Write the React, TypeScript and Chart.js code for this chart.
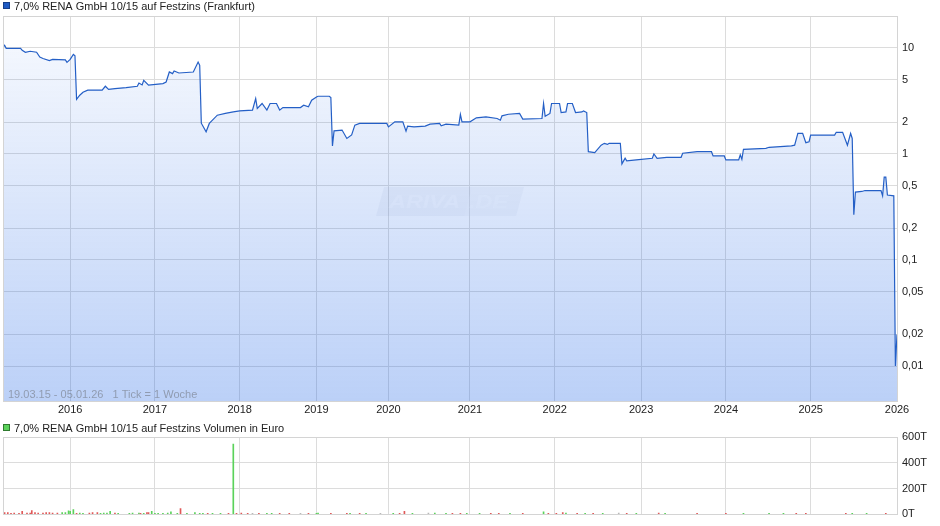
import React, { useEffect, useRef } from "react";
import { Chart, registerables } from "chart.js";

Chart.register(...registerables);

const FONT = 'Arial, "Liberation Sans", sans-serif';

const priceTitle = "7,0% RENA GmbH 10/15 auf Festzins (Frankfurt)";
const volumeTitle = "7,0% RENA GmbH 10/15 auf Festzins Volumen in Euro";
const rangeNote = "19.03.15 - 05.01.26   1 Tick = 1 Woche";
const watermarkParts = ["ARIVA", ".DE"];

// x axis: one tick per traded week (index), year boundaries
const yearLabels = ["2016", "2017", "2018", "2019", "2020", "2021", "2022", "2023", "2024", "2025", "2026"];
const yearWeeks = [42, 95, 148, 196, 241, 292, 345, 399, 452, 505, 559];
const weekCount = 559;

const priceTicks = [10, 5, 2, 1, 0.5, 0.2, 0.1, 0.05, 0.02, 0.01];
const priceMin = 0.00468;
const priceMax = 20.0;

const volumeTicks = [0, 200, 400, 600];
const volumeMax = 600;

// [week index, price]
const pricePoints: [number, number][] = [
  [0, 10.2], [1, 10.6], [2, 9.9], [11, 9.9], [12, 9.5], [14, 9.1], [17, 9.3], [21, 9.1],
  [23, 8.2], [25, 7.95], [29, 7.6], [31, 7.8], [39, 7.7], [40, 7.3], [42, 7.8], [44, 8.7],
  [45, 8.45], [46, 3.28], [48, 3.58], [50, 3.82], [53, 4.0], [62, 4.0], [64, 4.35], [66, 4.06],
  [70, 4.14], [77, 4.23], [84, 4.35], [85, 4.67], [87, 4.48], [88, 4.95], [91, 4.45], [100, 4.61],
  [102, 4.77], [104, 5.93], [106, 5.72], [107, 6.06], [110, 5.8], [119, 5.93], [122, 7.36], [123, 6.85],
  [124, 1.95], [127, 1.62], [129, 1.94], [134, 2.32], [139, 2.41], [144, 2.49], [148, 2.55], [156, 2.59],
  [158, 3.33], [159, 2.69], [162, 2.99], [165, 2.59], [167, 2.99], [171, 2.99], [173, 2.59], [175, 2.74],
  [186, 2.74], [188, 2.88], [191, 2.78], [193, 3.21], [196, 3.45], [197, 3.5], [204, 3.5], [205, 3.4],
  [206, 1.19], [207, 1.65], [212, 1.68], [215, 1.4], [218, 1.51], [220, 1.87], [223, 1.94], [240, 1.94],
  [241, 1.8], [245, 2.01], [250, 2.01], [252, 1.64], [253, 1.83], [257, 1.8], [264, 1.83], [267, 1.91],
  [273, 1.94], [274, 1.84], [277, 1.91], [285, 1.87], [286, 2.36], [287, 2.01], [292, 2.01], [296, 2.19],
  [302, 2.24], [309, 2.16], [311, 2.08], [312, 2.29], [316, 2.37], [323, 2.41], [325, 2.13], [337, 2.16],
  [338, 2.99], [339, 2.27], [342, 2.41], [343, 2.99], [348, 2.99], [349, 2.46], [352, 2.49], [353, 2.99],
  [356, 2.99], [358, 2.46], [362, 2.49], [363, 2.55], [365, 2.46], [366, 1.05], [370, 1.03], [374, 1.21],
  [376, 1.26], [378, 1.23], [379, 1.26], [386, 1.26], [387, 0.806], [389, 0.911], [390, 0.86], [396, 0.878],
  [406, 0.911], [407, 1.0], [409, 0.911], [415, 0.93], [424, 0.93], [425, 1.015], [434, 1.05], [443, 1.05],
  [444, 0.958], [451, 0.958], [452, 0.878], [460, 0.878], [461, 0.98], [462, 0.89], [463, 1.107], [477, 1.131],
  [479, 1.156], [493, 1.19], [495, 1.21], [497, 1.564], [500, 1.564], [502, 1.277], [504, 1.3], [505, 1.508],
  [520, 1.508], [521, 1.6], [525, 1.6], [528, 1.21], [530, 1.564], [531, 1.4], [532, 0.2675], [533, 0.437],
  [537, 0.443], [539, 0.452], [549, 0.452], [550, 0.403], [551, 0.604], [552, 0.604], [553, 0.41], [557, 0.403],
  [558, 0.01], [559, 0.0198],
];

// [week index, volume in thousand euro, direction: u = up, d = down, n = unchanged]
const volumeBars: [number, number, string][] = [
  [0, 23, "d"], [1, 15, "d"], [3, 15, "d"], [5, 8, "d"], [7, 11, "d"], [10, 8, "d"], [12, 23, "d"],
  [15, 11, "d"], [17, 11, "d"], [18, 30, "d"], [20, 15, "d"], [22, 11, "d"], [25, 11, "d"], [27, 15, "d"],
  [29, 15, "d"], [31, 11, "d"], [34, 11, "d"], [37, 15, "u"], [39, 15, "u"], [41, 27, "u"], [42, 23, "u"],
  [44, 38, "u"], [46, 8, "d"], [48, 11, "u"], [50, 8, "u"], [54, 11, "d"], [56, 15, "d"], [59, 15, "d"],
  [61, 8, "u"], [63, 11, "u"], [65, 11, "u"], [67, 23, "u"], [70, 11, "d"], [72, 8, "u"], [79, 8, "u"],
  [81, 11, "u"], [85, 11, "u"], [86, 8, "d"], [88, 8, "u"], [90, 15, "d"], [91, 15, "d"], [93, 23, "u"],
  [95, 8, "u"], [97, 8, "u"], [100, 8, "u"], [103, 11, "u"], [105, 19, "u"], [109, 8, "u"], [111, 45, "d"],
  [115, 8, "u"], [120, 15, "u"], [123, 8, "u"], [125, 8, "u"], [128, 8, "d"], [131, 8, "u"], [136, 8, "u"],
  [141, 8, "d"], [144, 545, "u"], [146, 8, "d"], [149, 11, "d"], [153, 8, "d"], [156, 8, "n"], [160, 8, "d"],
  [165, 8, "u"], [168, 8, "u"], [173, 8, "d"], [179, 8, "d"], [186, 8, "n"], [191, 8, "d"], [196, 8, "u"],
  [197, 11, "u"], [205, 8, "d"], [215, 8, "d"], [217, 8, "u"], [223, 8, "d"], [227, 8, "u"], [236, 8, "n"],
  [244, 8, "u"], [248, 8, "d"], [251, 23, "d"], [256, 8, "u"], [266, 11, "n"], [270, 11, "u"], [277, 8, "u"],
  [281, 8, "d"], [286, 8, "d"], [290, 8, "u"], [298, 8, "u"], [305, 8, "d"], [310, 8, "d"], [317, 8, "u"],
  [325, 8, "d"], [338, 19, "u"], [341, 8, "d"], [346, 8, "d"], [350, 15, "d"], [352, 11, "u"], [359, 8, "d"],
  [364, 8, "u"], [369, 8, "d"], [375, 8, "u"], [385, 11, "n"], [390, 8, "d"], [396, 8, "u"], [410, 11, "d"],
  [414, 8, "u"], [434, 8, "d"], [452, 8, "d"], [463, 8, "u"], [479, 8, "u"], [488, 8, "u"], [496, 8, "d"],
  [502, 8, "d"], [527, 8, "d"], [531, 8, "u"], [540, 8, "u"], [552, 8, "d"],
];

const dirColors: Record<string, string> = { u: "#5bd25b", d: "#e05858", n: "#b8b8b8" };

const GRID = "#dcdcdc";
const TICK_COLOR = "#222";

function yearLabelFor(v: number): string {
  const i = yearWeeks.indexOf(v);
  return i >= 0 ? yearLabels[i] : "";
}

function xScaleBase(showLabels: boolean, height: number) {
  return {
    type: "linear" as const,
    min: 0,
    max: weekCount,
    offset: false,
    border: { display: false },
    grid: { color: GRID, lineWidth: 1, drawTicks: false, offset: false },
    ticks: {
      display: showLabels,
      autoSkip: false,
      maxRotation: 0,
      padding: 2,
      color: TICK_COLOR,
      font: { family: FONT, size: 11 },
      callback: (v: any) => yearLabelFor(Number(v)),
    },
    afterBuildTicks: (scale: any) => {
      scale.ticks = yearWeeks.map((w) => ({ value: w }));
    },
    afterFit: (scale: any) => {
      scale.height = height;
    },
  };
}

const priceDecor = {
  id: "priceDecor",
  beforeDatasetsDraw(chart: any) {
    const { ctx, chartArea: a } = chart;
    ctx.save();
    // watermark
    const cx = (a.left + a.right) / 2;
    const cy = 202;
    ctx.beginPath();
    ctx.moveTo(cx - 66, cy - 15);
    ctx.lineTo(cx + 74, cy - 15);
    ctx.lineTo(cx + 66, cy + 14);
    ctx.lineTo(cx - 74, cy + 14);
    ctx.closePath();
    ctx.fillStyle = "rgba(110,130,170,0.07)";
    ctx.fill();
    ctx.beginPath();
    ctx.moveTo(cx + 22, cy - 15);
    ctx.lineTo(cx + 74, cy - 15);
    ctx.lineTo(cx + 66, cy + 14);
    ctx.lineTo(cx + 14, cy + 14);
    ctx.closePath();
    ctx.fillStyle = "rgba(255,255,255,0.18)";
    ctx.fill();
    ctx.fillStyle = "rgba(255,255,255,0.45)";
    ctx.font = `italic bold 18px ${FONT}`;
    ctx.textBaseline = "alphabetic";
    ctx.save();
    ctx.translate(cx - 61, cy + 6);
    ctx.scale(1.3, 1);
    ctx.fillText(watermarkParts[0], 0, 0);
    ctx.restore();
    ctx.save();
    ctx.translate(cx + 19, cy + 6);
    ctx.scale(1.3, 1);
    ctx.fillText(watermarkParts[1], 0, 0);
    ctx.restore();
    ctx.restore();
  },
  afterDraw(chart: any) {
    const { ctx, chartArea: a } = chart;
    ctx.save();
    ctx.strokeStyle = "#d4d4d4";
    ctx.lineWidth = 1;
    ctx.strokeRect(Math.round(a.left) + 0.5, Math.round(a.top) + 0.5, Math.round(a.right - a.left), Math.round(a.bottom - a.top));
    // legend
    ctx.fillStyle = "#1f5bc4";
    ctx.fillRect(3, 2, 7, 7);
    ctx.strokeStyle = "#163f8a";
    ctx.strokeRect(3.5, 2.5, 6, 6);
    ctx.font = `11px ${FONT}`;
    ctx.fillStyle = "#222";
    ctx.textBaseline = "middle";
    ctx.textAlign = "left";
    ctx.fillText(priceTitle, 14, 6.5);
    // range note
    ctx.fillStyle = "rgba(120,126,138,0.65)";
    ctx.fillText(rangeNote, 8, 395);
    ctx.restore();
  },
};

const volumeDecor = {
  id: "volumeDecor",
  afterDraw(chart: any) {
    const { ctx, chartArea: a } = chart;
    ctx.save();
    ctx.strokeStyle = "#d4d4d4";
    ctx.lineWidth = 1;
    ctx.strokeRect(Math.round(a.left) + 0.5, Math.round(a.top) + 0.5, Math.round(a.right - a.left), Math.round(a.bottom - a.top));
    ctx.fillStyle = "#5bd25b";
    ctx.fillRect(3, 4, 7, 7);
    ctx.strokeStyle = "#2f7a2f";
    ctx.strokeRect(3.5, 4.5, 6, 6);
    ctx.font = `11px ${FONT}`;
    ctx.fillStyle = "#222";
    ctx.textBaseline = "middle";
    ctx.textAlign = "left";
    ctx.fillText(volumeTitle, 14, 8.5);
    ctx.restore();
  },
};

function PriceChart() {
  const ref = useRef<HTMLCanvasElement | null>(null);
  useEffect(() => {
    if (!ref.current) return;
    const chart = new Chart(ref.current, {
      type: "line",
      data: {
        datasets: [
          {
            data: pricePoints.map(([w, v]) => ({ x: w, y: v })),
            borderColor: "#245fc6",
            borderWidth: 1.2,
            pointRadius: 0,
            tension: 0,
            fill: "start",
            backgroundColor: (c: any) => {
              const area = c.chart.chartArea;
              if (!area) return "rgba(30,100,230,0.15)";
              const g = c.chart.ctx.createLinearGradient(0, area.top, 0, area.bottom);
              g.addColorStop(0, "rgba(30,100,230,0.03)");
              g.addColorStop(1, "rgba(30,100,230,0.3)");
              return g;
            },
          },
        ],
      },
      options: {
        responsive: false,
        animation: false,
        devicePixelRatio: 1,
        layout: { padding: { left: 3, top: 16, right: 0, bottom: 0 } },
        plugins: { legend: { display: false }, tooltip: { enabled: false } },
        scales: {
          x: xScaleBase(true, 19) as any,
          y: {
            type: "logarithmic",
            position: "right",
            min: priceMin,
            max: priceMax,
            border: { display: false },
            grid: { color: GRID, lineWidth: 1, drawTicks: false },
            ticks: {
              padding: 5,
              color: TICK_COLOR,
              font: { family: FONT, size: 11 },
              autoSkip: false,
              callback: (v: any) => String(Number(v)).replace(".", ","),
            },
            afterBuildTicks: (scale: any) => {
              scale.ticks = priceTicks.map((t) => ({ value: t }));
            },
            afterFit: (scale: any) => {
              scale.width = 43;
            },
          } as any,
        },
      },
      plugins: [priceDecor],
    });
    return () => chart.destroy();
  }, []);
  return <canvas ref={ref} width={940} height={420} style={{ display: "block", width: 940, height: 420 }} />;
}

function VolumeChart() {
  const ref = useRef<HTMLCanvasElement | null>(null);
  useEffect(() => {
    if (!ref.current) return;
    const chart = new Chart(ref.current, {
      type: "bar",
      data: {
        datasets: [
          {
            data: volumeBars.map(([w, v]) => ({ x: w, y: v })),
            backgroundColor: volumeBars.map(([, , d]) => dirColors[d]),
            barThickness: 1,
            borderWidth: 0,
          },
        ],
      },
      options: {
        responsive: false,
        animation: false,
        devicePixelRatio: 1,
        layout: { padding: { left: 3, top: 17, right: 0, bottom: 0 } },
        plugins: { legend: { display: false }, tooltip: { enabled: false } },
        scales: {
          x: xScaleBase(false, 10) as any,
          y: {
            type: "linear",
            position: "right",
            min: 0,
            max: volumeMax,
            border: { display: false },
            grid: { color: GRID, lineWidth: 1, drawTicks: false },
            ticks: {
              padding: 5,
              color: TICK_COLOR,
              font: { family: FONT, size: 11 },
              autoSkip: false,
              callback: (v: any) => `${Number(v)}T`,
            },
            afterBuildTicks: (scale: any) => {
              scale.ticks = volumeTicks.map((t) => ({ value: t }));
            },
            afterFit: (scale: any) => {
              scale.width = 43;
            },
          } as any,
        },
      },
      plugins: [volumeDecor],
    });
    return () => chart.destroy();
  }, []);
  return <canvas ref={ref} width={940} height={106} style={{ display: "block", width: 940, height: 106 }} />;
}

export default function App() {
  return (
    <div style={{ position: "absolute", left: 0, top: 0, width: 940, height: 526, background: "#fff", overflow: "hidden" }}>
      <PriceChart />
      <VolumeChart />
    </div>
  );
}
